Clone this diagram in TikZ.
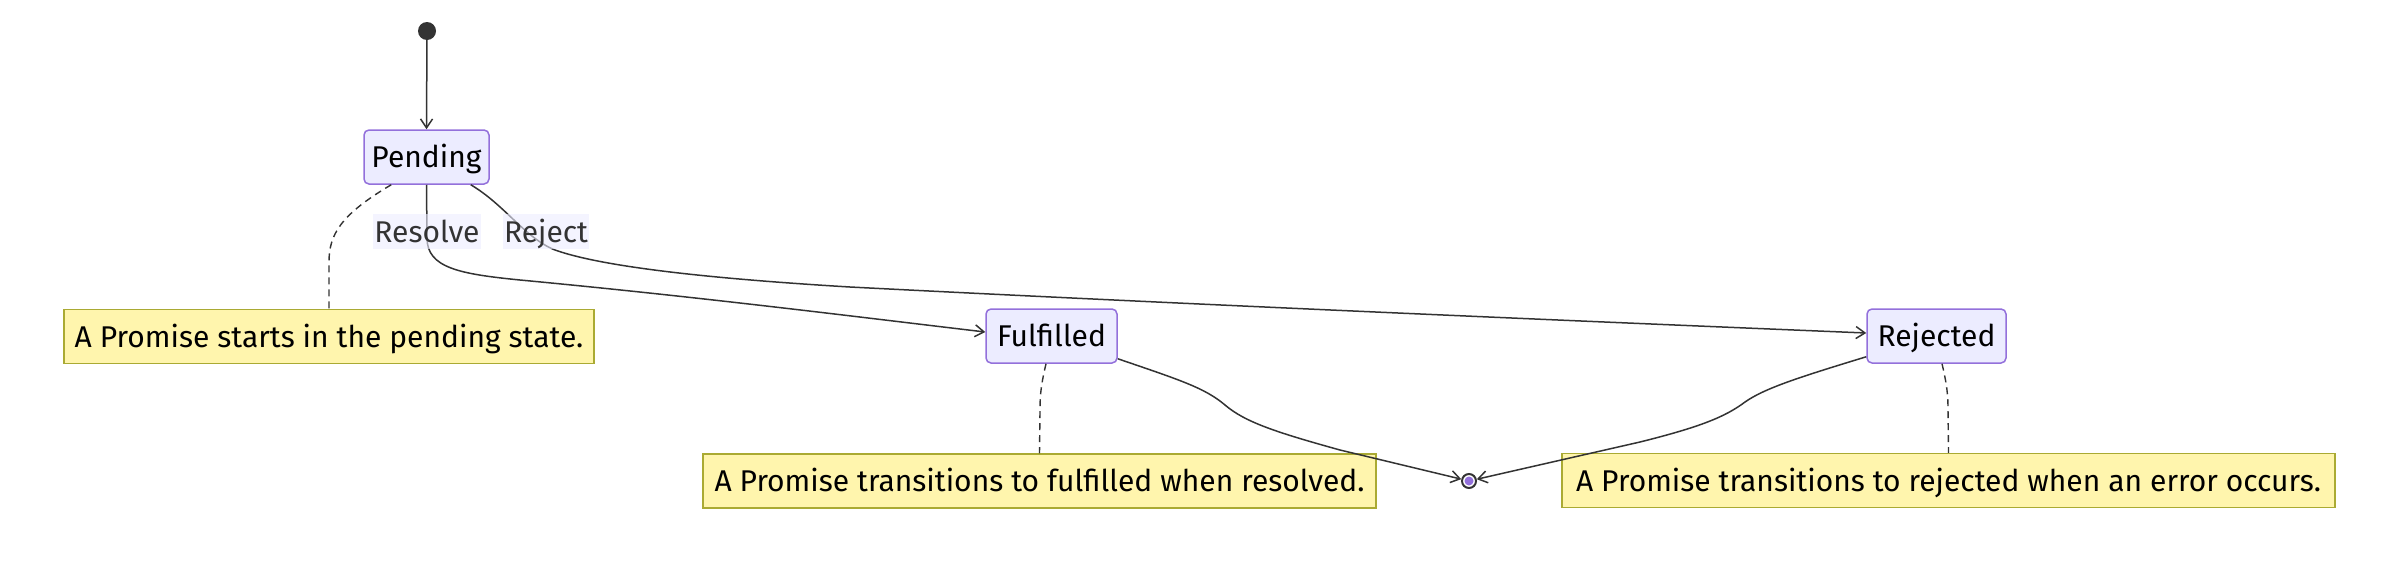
\documentclass[tikz,border=0pt]{standalone}
\usepackage{fontspec}
\setmainfont{Fira Sans}
\usetikzlibrary{arrows.meta}
\definecolor{stfill}{HTML}{ECECFF}
\definecolor{stdraw}{HTML}{9370DB}
\definecolor{ntfill}{HTML}{FFF5AD}
\definecolor{ntdraw}{HTML}{AAAA33}
\definecolor{edge}{HTML}{333333}
\tikzset{
  txt/.style={font=\fontsize{30}{36}\selectfont, text height=21pt, text depth=0pt},
  statebox/.style={txt, draw=stdraw, fill=stfill, line width=1.5pt, rounded corners=5pt,
    minimum height=54pt, inner sep=0pt, text=black},
  notebox/.style={txt, draw=ntdraw, fill=ntfill, line width=1.5pt,
    minimum height=54pt, inner sep=0pt, text=black},
  elabel/.style={txt, fill=stfill, fill opacity=0.6, text opacity=1, text=edge,
    inner sep=1pt, minimum height=35pt},
  trans/.style={draw=edge, line width=1.5pt, -{Straight Barb[length=9pt,width=12pt,line width=1.5pt]}},
  notelink/.style={draw=edge, line width=1.4pt, dash pattern=on 7pt off 5pt},
}
\begin{document}
\begin{tikzpicture}[x=1pt,y=-1pt]
\useasboundingbox (0,0) rectangle (2400,560);
% states
\node[circle, fill=edge, inner sep=0pt, minimum size=18pt] (start) at (427,31) {};
\node[statebox, minimum width=125pt] (pending) at (426.5,157) {Pending};
\node[statebox, minimum width=131pt] (fulfilled) at (1051.5,336) {Fulfilled};
\node[statebox, minimum width=139pt] (rejected) at (1936.5,336) {Rejected};
\node[circle, draw=edge, fill=white, line width=2pt, inner sep=0pt, minimum size=14pt] (fin) at (1469,481) {};
\node[circle, fill=stdraw, inner sep=0pt, minimum size=9pt] (finin) at (fin.center) {};
% notes
\node[notebox, minimum width=530pt] (note1) at (329,336.5) {A Promise starts in the pending state.};
\node[notebox, minimum width=673pt] (note2) at (1039.5,481) {A Promise transitions to fulfilled when resolved.};
\node[notebox, minimum width=773pt] (note3) at (1948.5,480.5) {A Promise transitions to rejected when an error occurs.};
% note links
\draw[notelink] ([xshift=28pt]pending.south west) .. controls (340,215) and (329,235) .. (329,262) -- (note1.north);
\draw[notelink] ([xshift=-5.5pt]fulfilled.south) .. controls (1041,385) and (1040,395) .. (1040,410) -- (note2.north);
\draw[notelink] ([xshift=5.5pt]rejected.south) .. controls (1947,385) and (1948,395) .. (1948,410) -- (note3.north);
% transitions
\draw[trans] (start) -- (pending.north);
\draw[trans] (pending.south) -- (427,238) .. controls (427,268) and (460,274) .. (520,280)
   .. controls (700,297) and (850,316) .. ([yshift=4pt]fulfilled.west);
\draw[trans] ([xshift=-19pt]pending.south east) .. controls (505,205) and (525,238) .. (555,250)
   .. controls (600,266) and (700,278) .. (850,287)
   .. controls (1200,305) and (1600,322) .. ([yshift=3pt]rejected.west);
\draw[trans] ([yshift=5pt]fulfilled.south east) .. controls (1180,380) and (1205,388) .. (1225,405)
   .. controls (1245,422) and (1275,432) .. (1340,450) -- (fin);
\draw[trans] ([yshift=7pt]rejected.south west) .. controls (1800,377) and (1765,388) .. (1745,402)
   .. controls (1725,417) and (1700,427) .. (1640,442) -- (fin);
% labels
\node[elabel] (lresolve) at (427,231.5) {Resolve};
\node[elabel] (lreject) at (546,231.5) {Reject};
\end{tikzpicture}
\end{document}
